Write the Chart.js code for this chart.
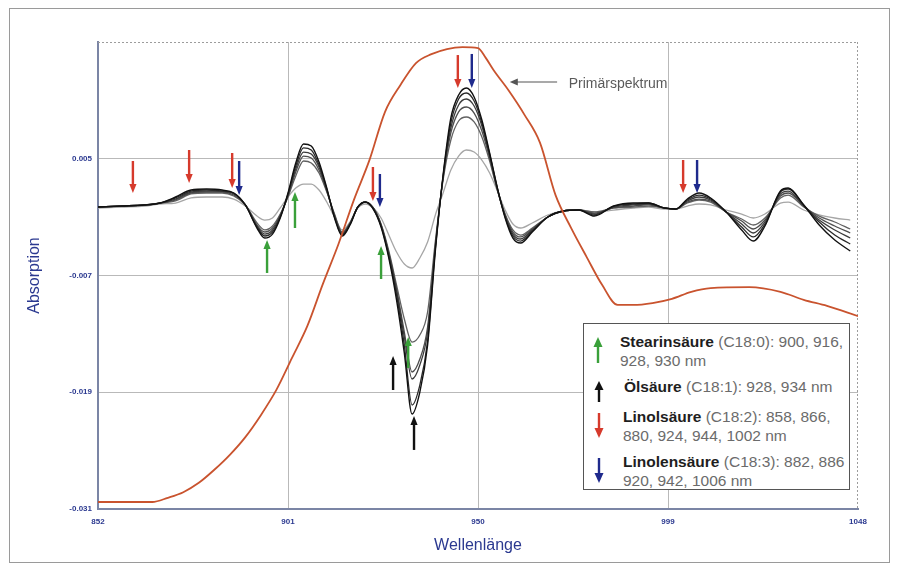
<!DOCTYPE html>
<html lang="de">
<head>
<meta charset="utf-8">
<title>Absorption – Wellenlänge</title>
<script src="https://cdn.jsdelivr.net/npm/chart.js@4.4.1/dist/chart.umd.min.js"></script>
<style>
  html, body { margin: 0; padding: 0; background: #fff; }
  #wrap { position: relative; width: 898px; height: 568px; overflow: hidden;
          font-family: 'Liberation Sans', Arial, sans-serif; }
  #chart { position: absolute; left: 0; top: 0; }
  #frame { position: absolute; left: 9px; top: 8px; width: 879px; height: 553px;
           border: 1px solid #9a9a9a; pointer-events: none; }
  #legend { position: absolute; left: 583px; top: 323px; width: 267px; height: 167px;
            background: #fff; border: 1.5px solid #555; box-sizing: border-box; }
  #legend svg { position: absolute; }
  #legend .txt { position: absolute; white-space: nowrap; font-size: 15.5px; line-height: 19px;
                 color: #6b6b6b; }
  #legend b { color: #1e1e1e; }
</style>
</head>
<body>
<div id="wrap">
  <canvas id="chart" width="898" height="568"></canvas>
  <div id="legend">
    <svg style="left:9px;top:13px" width="10" height="26" viewBox="0 0 10 26">
      <polygon points="5,0 9.5,10 0.5,10" fill="#3aa03a"/><line x1="5" y1="8" x2="5" y2="26" stroke="#3aa03a" stroke-width="2.4"/>
    </svg>
    <div class="txt" style="left:36px;top:8px"><b>Stearinsäure</b> (C18:0): 900, 916,<br>928, 930 nm</div>
    <svg style="left:10px;top:57px" width="10" height="21" viewBox="0 0 10 21">
      <polygon points="5,0 9.5,9 0.5,9" fill="#111"/><line x1="5" y1="7" x2="5" y2="21" stroke="#111" stroke-width="2.4"/>
    </svg>
    <div class="txt" style="left:40px;top:53px"><b>Ölsäure</b> (C18:1): 928, 934 nm</div>
    <svg style="left:10px;top:89px" width="10" height="25" viewBox="0 0 10 25">
      <line x1="5" y1="0" x2="5" y2="17" stroke="#d63a2c" stroke-width="2.4"/><polygon points="5,25 9.5,15 0.5,15" fill="#d63a2c"/>
    </svg>
    <div class="txt" style="left:39px;top:83px"><b>Linolsäure</b> (C18:2): 858, 866,<br>880, 924, 944, 1002 nm</div>
    <svg style="left:10px;top:134px" width="10" height="25" viewBox="0 0 10 25">
      <line x1="5" y1="0" x2="5" y2="17" stroke="#1f2a8c" stroke-width="2.4"/><polygon points="5,25 9.5,15 0.5,15" fill="#1f2a8c"/>
    </svg>
    <div class="txt" style="left:39px;top:128px"><b>Linolensäure</b> (C18:3): 882, 886<br>920, 942, 1006 nm</div>
  </div>
  <div id="frame"></div>
</div>
<script>
// Wavelength grid of the derivative spectra (nm)
const wavelengths = [
  852, 858, 864, 868, 872, 876, 880, 884, 887, 890,
  893, 895, 897, 899, 901, 903, 905, 907, 909, 911,
  913, 915, 917, 919, 921, 923, 925, 927, 929, 931,
  933, 935, 937, 939, 941, 943, 945, 947, 949, 951,
  953, 955, 957, 959, 961, 964, 968, 972, 976, 980,
  985, 990, 994, 998, 1001, 1004, 1007, 1010, 1014, 1018,
  1021, 1024, 1028, 1030, 1034, 1038, 1042, 1046
];

// Derivative spectra of the samples, absorption in units of 1e-3
const sample1 = [
  0.04, 0.14, 0.25, 0.45, 1.07, 1.79, 1.89, 1.79, 1.48, 0.25,
  -2.12, -3.15, -2.74, -1.09, 1.48, 4.56, 6.52, 6.31, 4.67, 1.99,
  -1.09, -2.94, -1.81, 0.04, 0.55, -0.17, -2.02, -5.20, -9.52, -14.97,
  -21.24, -18.98, -14.15, -4.48, 3.33, 9.19, 11.55, 12.27, 11.35, 8.98,
  5.59, 1.99, -1.09, -3.15, -3.66, -2.53, -0.99, -0.37, -0.27, -0.89,
  0.14, 0.45, 0.45, -0.06, -0.17, 0.86, 1.48, 0.97, -0.47, -2.32,
  -3.46, -1.91, 1.68, 1.99, 0.25, -1.81, -3.35, -4.48
];
const sample2 = [
  0.04, 0.14, 0.25, 0.45, 0.97, 1.68, 1.79, 1.68, 1.48, 0.25,
  -2.02, -2.94, -2.53, -0.99, 1.38, 4.25, 6.11, 5.90, 4.36, 1.89,
  -0.99, -2.84, -1.71, 0.04, 0.55, -0.17, -1.91, -5.00, -9.01, -14.15,
  -20.31, -18.26, -13.74, -4.28, 3.23, 8.68, 11.14, 11.76, 10.94, 8.68,
  5.49, 1.99, -0.99, -2.94, -3.46, -2.43, -0.99, -0.37, -0.27, -0.78,
  0.14, 0.35, 0.45, -0.06, -0.17, 0.76, 1.27, 0.86, -0.47, -2.02,
  -3.04, -1.71, 1.58, 1.89, 0.25, -1.50, -2.84, -3.76
];
const sample3 = [
  0.04, 0.14, 0.25, 0.45, 0.86, 1.58, 1.68, 1.68, 1.38, 0.25,
  -1.91, -2.74, -2.32, -0.89, 1.27, 3.95, 5.69, 5.49, 4.15, 1.79,
  -0.89, -2.74, -1.71, 0.04, 0.55, -0.06, -1.81, -4.79, -8.60, -13.32,
  -17.64, -16.20, -12.81, -4.07, 3.12, 8.16, 10.53, 11.14, 10.42, 8.37,
  5.28, 1.89, -0.89, -2.74, -3.25, -2.32, -0.99, -0.37, -0.27, -0.68,
  0.04, 0.25, 0.35, -0.06, -0.17, 0.66, 1.07, 0.76, -0.47, -1.71,
  -2.63, -1.50, 1.38, 1.68, 0.14, -1.30, -2.32, -3.15
];
const sample4 = [
  0.04, 0.14, 0.25, 0.45, 0.76, 1.48, 1.58, 1.58, 1.27, 0.25,
  -1.81, -2.53, -2.12, -0.78, 1.17, 3.64, 5.28, 5.08, 3.84, 1.68,
  -0.78, -2.63, -1.60, 0.04, 0.55, -0.06, -1.81, -4.69, -8.39, -12.81,
  -16.92, -15.59, -12.30, -3.87, 3.02, 7.65, 9.81, 10.32, 9.70, 7.85,
  5.08, 1.79, -0.78, -2.53, -3.04, -2.22, -0.99, -0.37, -0.27, -0.58,
  -0.06, 0.14, 0.25, -0.06, -0.17, 0.55, 0.86, 0.66, -0.47, -1.40,
  -2.22, -1.30, 1.17, 1.48, 0.14, -1.09, -1.91, -2.63
];
const sample5 = [
  0.04, 0.14, 0.25, 0.45, 0.66, 1.38, 1.48, 1.48, 1.17, 0.25,
  -1.60, -2.32, -1.91, -0.68, 1.07, 3.23, 4.77, 4.56, 3.54, 1.58,
  -0.68, -2.53, -1.60, 0.04, 0.55, -0.06, -1.71, -4.48, -7.98, -11.47,
  -13.84, -13.12, -10.75, -3.46, 2.82, 6.93, 8.88, 9.29, 8.78, 7.24,
  4.77, 1.79, -0.68, -2.32, -2.84, -2.12, -0.99, -0.37, -0.27, -0.47,
  -0.06, 0.04, 0.14, -0.06, -0.17, 0.45, 0.76, 0.55, -0.47, -1.19,
  -1.81, -1.09, 0.97, 1.27, 0.04, -0.89, -1.50, -2.22
];
const sample6 = [
  -0.06, 0.04, 0.14, 0.35, 0.45, 0.97, 1.07, 1.07, 0.86, 0.14,
  -0.89, -1.30, -1.09, -0.06, 1.07, 1.99, 2.40, 2.40, 1.79, 0.55,
  -0.99, -2.32, -1.50, -0.06, 0.35, -0.06, -1.09, -2.84, -4.59, -5.82,
  -6.23, -5.20, -3.56, -0.78, 1.48, 3.84, 5.28, 5.90, 5.69, 4.87,
  3.54, 1.68, -0.27, -1.71, -2.12, -1.60, -0.78, -0.37, -0.27, -0.47,
  -0.27, -0.06, 0.04, -0.17, -0.17, 0.14, 0.35, 0.25, -0.27, -0.68,
  -1.09, -0.68, 0.45, 0.55, -0.27, -0.78, -1.09, -1.30
];

// Primary spectrum, relative intensity (%)
const primaryWavelengths = [
  852, 860, 866, 870, 874, 878, 882, 886, 890, 894,
  898, 902, 906, 910, 914, 918, 922, 926, 930, 934,
  938, 942, 946, 950, 952, 954, 958, 962, 966, 970,
  974, 978, 982, 986, 990, 995, 1000, 1005, 1010, 1020,
  1028, 1034, 1040, 1048
];
const primarySpectrum = [
  1.5, 1.5, 1.5, 2.4, 3.6, 5.6, 8.4, 11.6, 15.4, 20.1,
  25.5, 32.3, 39.2, 48.2, 56.7, 66.2, 74.7, 85.0, 90.8, 95.5,
  97.4, 98.5, 98.9, 98.7, 96.6, 94.0, 89.5, 84.4, 78.4, 67.2,
  60.2, 54.0, 48.0, 43.7, 43.7, 44.1, 45.0, 46.5, 47.3, 47.5,
  46.5, 44.8, 43.5, 41.3
];

// Axis ticks
const xTickValues = [852, 901, 950, 999, 1048];
const yTickValues = [-0.031, -0.019, -0.007, 0.005, 0.017];
const yTickLabels = ['-0.031', '-0.019', '-0.007', '0.005', ''];

// Band markers: wavelength (nm), arrow tail and tip (absorption, 1e-3)
const stearinNm   = [895.6, 902.8, 925.0, 932.0];
const stearinTail = [-6.74, -2.12, -7.36, -16.51];
const stearinTip  = [-3.35, 1.58, -3.97, -13.32];
const oelNm   = [928.1, 933.5];
const oelTail = [-18.77, -24.93];
const oelTip  = [-15.27, -21.44];
const linolNm   = [861.0, 875.5, 886.6, 922.9, 944.8, 1002.9];
const linolTail = [4.77, 5.90, 5.59, 4.15, 15.66, 4.87];
const linolTip  = [1.48, 2.51, 1.99, 0.66, 12.27, 1.48];
const linolenNm   = [888.4, 924.7, 948.4, 1006.5];
const linolenTail = [4.77, 3.43, 15.77, 4.87];
const linolenTip  = [1.27, 0.04, 12.27, 1.48];

// Pointer to the primary spectrum: from/to wavelength, height (1e-3)
const primaryPointerNm = [970.4, 958.2];
const primaryPointerY = 12.89;
const primaryLabelNm = 973.4;

const milli = 1e-3;
const toPoints = (xs, ys, f) => xs.map((w, i) => ({ x: w, y: ys[i] * f }));

const markerGroups = [
  { nm: stearinNm, tail: stearinTail, tip: stearinTip, color: '#3aa03a' },
  { nm: oelNm, tail: oelTail, tip: oelTip, color: '#111111' },
  { nm: linolNm, tail: linolTail, tip: linolTip, color: '#d63a2c' },
  { nm: linolenNm, tail: linolenTail, tip: linolenTip, color: '#1f2a8c' }
];

function drawArrow(ctx, x, yTail, yTip, color, width, head, half) {
  const dir = yTip > yTail ? 1 : -1;
  ctx.strokeStyle = color;
  ctx.fillStyle = color;
  ctx.lineWidth = width;
  ctx.beginPath();
  ctx.moveTo(x, yTail);
  ctx.lineTo(x, yTip - dir * head * 0.8);
  ctx.stroke();
  ctx.beginPath();
  ctx.moveTo(x, yTip);
  ctx.lineTo(x - half, yTip - dir * head);
  ctx.lineTo(x + half, yTip - dir * head);
  ctx.closePath();
  ctx.fill();
}

const overlay = {
  id: 'overlay',
  beforeDatasetsDraw(chart) {
    const { ctx, chartArea: a } = chart;
    ctx.save();
    ctx.strokeStyle = '#9c9c9c';
    ctx.lineWidth = 1;
    ctx.setLineDash([2, 2]);
    ctx.beginPath();
    ctx.moveTo(a.left, a.top + 0.5);
    ctx.lineTo(a.right, a.top + 0.5);
    ctx.moveTo(a.right - 0.5, a.top);
    ctx.lineTo(a.right - 0.5, a.bottom);
    ctx.stroke();
    ctx.restore();
  },
  afterDatasetsDraw(chart) {
    const { ctx, scales: { x, y } } = chart;
    ctx.save();
    markerGroups.forEach(g => g.nm.forEach((w, i) => {
      drawArrow(ctx, x.getPixelForValue(w),
        y.getPixelForValue(g.tail[i] * milli), y.getPixelForValue(g.tip[i] * milli),
        g.color, 2.4, 9, 3.6);
    }));
    // pointer and label of the primary spectrum
    const py = y.getPixelForValue(primaryPointerY * milli);
    const x0 = x.getPixelForValue(primaryPointerNm[0]);
    const x1 = x.getPixelForValue(primaryPointerNm[1]);
    ctx.strokeStyle = '#555';
    ctx.fillStyle = '#555';
    ctx.lineWidth = 1.2;
    ctx.beginPath();
    ctx.moveTo(x0, py);
    ctx.lineTo(x1 + 5, py);
    ctx.stroke();
    ctx.beginPath();
    ctx.moveTo(x1, py);
    ctx.lineTo(x1 + 8, py - 3.5);
    ctx.lineTo(x1 + 8, py + 3.5);
    ctx.closePath();
    ctx.fill();
    ctx.font = "14px 'Liberation Sans', Arial, sans-serif";
    ctx.fillStyle = '#5a5a5a';
    ctx.textBaseline = 'middle';
    ctx.textAlign = 'left';
    ctx.fillText('Primärspektrum', x.getPixelForValue(primaryLabelNm), py + 2);
    ctx.restore();
  }
};

const sampleLine = (data, color, width) => ({
  data: toPoints(wavelengths, data, milli),
  borderColor: color,
  borderWidth: width,
  pointRadius: 0,
  fill: false,
  cubicInterpolationMode: 'monotone',
  yAxisID: 'y'
});

const tickFont = { family: "'Liberation Sans', Arial, sans-serif", size: 8, weight: 'bold' };
const titleFont = { family: "'Liberation Sans', Arial, sans-serif", size: 16 };
const axisBlue = '#2b3990';

new Chart(document.getElementById('chart'), {
  type: 'line',
  data: {
    datasets: [
      {
        label: 'Primärspektrum',
        data: toPoints(primaryWavelengths, primarySpectrum, 1),
        borderColor: '#c9532e',
        borderWidth: 1.8,
        pointRadius: 0,
        fill: false,
        cubicInterpolationMode: 'monotone',
        yAxisID: 'y2'
      },
      sampleLine(sample1, '#111111', 1.4),
      sampleLine(sample2, '#2a2a2a', 1.3),
      sampleLine(sample3, '#3c3c3c', 1.3),
      sampleLine(sample4, '#4e4e4e', 1.3),
      sampleLine(sample5, '#626262', 1.3),
      sampleLine(sample6, '#a6a6a6', 1.3)
    ]
  },
  options: {
    responsive: false,
    animation: false,
    events: [],
    layout: { padding: { left: 10, right: 40, top: 42, bottom: 13 } },
    plugins: { legend: { display: false }, tooltip: { enabled: false } },
    scales: {
      x: {
        type: 'linear',
        min: 852,
        max: 1048,
        afterBuildTicks: s => { s.ticks = xTickValues.map(v => ({ value: v })); },
        afterFit: s => { s.height = 46; },
        ticks: { autoSkip: false, maxRotation: 0, padding: 8, color: axisBlue, font: tickFont,
                 callback: v => String(v) },
        grid: {
          drawTicks: false,
          lineWidth: 1,
          color: c => (c.tick && (c.tick.value === 852 || c.tick.value === 1048)) ? 'rgba(0,0,0,0)' : '#b9b9b9'
        },
        border: { color: '#7b85a5', width: 2 },
        title: { display: true, text: 'Wellenlänge', color: axisBlue, font: titleFont,
                 padding: { top: 0, bottom: 0 } }
      },
      y: {
        min: -0.031,
        max: 0.017,
        afterBuildTicks: s => { s.ticks = yTickValues.map(v => ({ value: v })); },
        afterFit: s => { s.width = 88; },
        ticks: { autoSkip: false, padding: 6, color: axisBlue, font: tickFont,
                 callback: (v, i) => yTickLabels[i] },
        grid: {
          drawTicks: false,
          lineWidth: 1,
          color: c => (c.tick && (Math.abs(c.tick.value + 0.031) < 1e-6 || Math.abs(c.tick.value - 0.017) < 1e-6)) ? 'rgba(0,0,0,0)' : '#b9b9b9'
        },
        border: { color: '#7b85a5', width: 2 },
        title: { display: true, text: 'Absorption', color: axisBlue, font: titleFont,
                 padding: { top: 15, bottom: 0 } }
      },
      y2: { display: false, min: 0, max: 100 }
    }
  },
  plugins: [overlay]
});
</script>
</body>
</html>
